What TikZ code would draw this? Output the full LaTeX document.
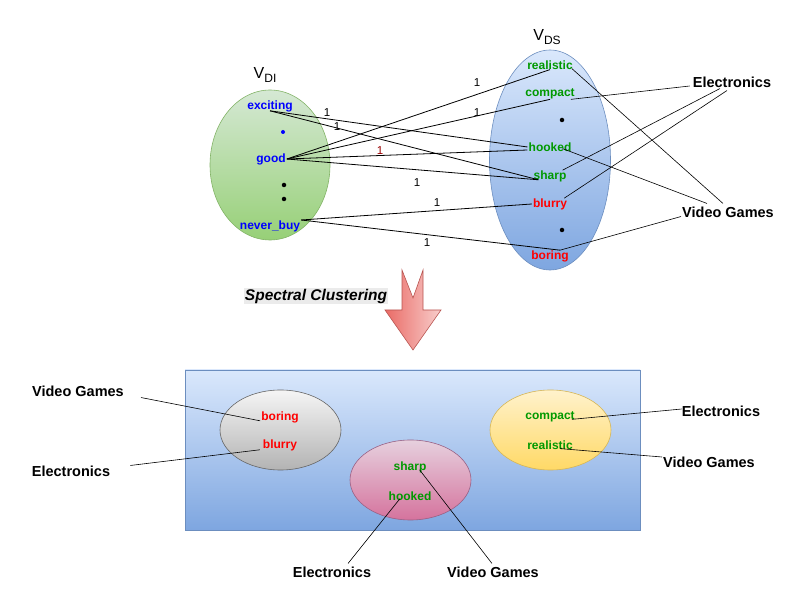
\documentclass[tikz,border=0pt]{standalone}
\usepackage{fontspec}
\setmainfont{Liberation Sans}
\usetikzlibrary{shapes.geometric}
\definecolor{tblue}{HTML}{0000FF}
\definecolor{tgreen}{HTML}{009900}
\definecolor{tred}{HTML}{FF0000}
\definecolor{dred}{HTML}{990000}
\definecolor{gtop}{HTML}{D5E8D4}\definecolor{gbot}{HTML}{97D077}\definecolor{gbrd}{HTML}{82B366}
\definecolor{btop}{HTML}{DAE8FC}\definecolor{bbot}{HTML}{7EA6E0}\definecolor{bbrd}{HTML}{6C8EBF}
\definecolor{ytop}{HTML}{F5F5F5}\definecolor{ybot}{HTML}{B3B3B3}\definecolor{ybrd}{HTML}{666666}
\definecolor{ptop}{HTML}{E6D0DE}\definecolor{pbot}{HTML}{D5739D}\definecolor{pbrd}{HTML}{996185}
\definecolor{otop}{HTML}{FFF2CC}\definecolor{obot}{HTML}{FFD966}\definecolor{obrd}{HTML}{D6B656}
\definecolor{rlight}{HTML}{F8CECC}\definecolor{rdark}{HTML}{EA6B66}\definecolor{rbrd}{HTML}{B85450}
\tikzset{
  word/.style={font=\fontsize{12}{14}\selectfont\bfseries, inner sep=1pt},
  cat/.style={font=\fontsize{14.5}{17}\selectfont\bfseries, inner sep=1pt},
  wt/.style={font=\fontsize{11.5}{13}\selectfont, inner sep=0pt},
  link/.style={draw=black, line width=0.8pt},
  thin link/.style={draw=black, line width=0.6pt},
  blob/.style={ellipse, draw, line width=0.6pt, inner sep=0pt},
  dotmark/.style={circle, fill=black, inner sep=0pt, minimum size=4.5pt},
}
\begin{document}
\begin{tikzpicture}[x=1pt,y=-1pt]
\useasboundingbox (0,0) rectangle (801,601);

% ---------- top: bipartite graph ----------
\node[blob, draw=gbrd, top color=gtop, bottom color=gbot, minimum width=120, minimum height=150] (DI) at (270,165) {};
\node[blob, draw=bbrd, top color=btop, bottom color=bbot, minimum width=121, minimum height=220] (DS) at (550,160) {};

\node (vdi) at (265,75) {\fontsize{16}{18}\selectfont V\raisebox{-3.5pt}{\fontsize{12}{14}\selectfont DI}};
\node (vds) at (547,37) {\fontsize{16}{18}\selectfont V\raisebox{-3.5pt}{\fontsize{12}{14}\selectfont DS}};

\node[word, text=tblue] (exciting) at (270,106) {exciting};
\node[dotmark, fill=tblue, minimum size=4pt] (d1) at (283,132) {};
\node[word, text=tblue] (good) at (271,159) {good};
\node[dotmark] (d2) at (284,185) {};
\node[dotmark] (d3) at (284,199) {};
\node[word, text=tblue] (never) at (270,226) {never\_buy};

\node[word, text=tgreen] (realistic) at (550,65) {realistic};
\node[word, text=tgreen] (compact) at (550,94) {compact};
\node[dotmark] (d4) at (562,120) {};
\node[word, text=tgreen] (hooked) at (550,147) {hooked};
\node[word, text=tgreen] (sharp) at (550,176) {sharp};
\node[word, text=tred] (blurry) at (550,204) {blurry};
\node[dotmark] (d5) at (562,230) {};
\node[word, text=tred] (boring) at (550,256) {boring};

\node[cat] (elec) at (732,82) {Electronics};
\node[cat] (vg) at (728,212) {Video Games};

% weighted edges
\draw[link] ([yshift=2]exciting.south) -- (hooked.west);
\draw[link] ([yshift=2]exciting.south) -- ([xshift=6,yshift=3]sharp.south west);
\draw[link] (good.east) -- ([yshift=1]realistic.south);
\draw[link] (good.east) -- ([yshift=1]compact.south);
\draw[link] (good.east) -- ([yshift=-3]hooked.west);
\draw[link] (good.east) -- ([xshift=6,yshift=3]sharp.south west);
\draw[link] ([yshift=6]never.east) -- (blurry.west);
\draw[link] ([yshift=6]never.east) -- ([xshift=10,yshift=-1]boring.north);

\node[wt] (w1) at (327,113) {1};
\node[wt] (w2) at (337,127) {1};
\node[wt] (w3) at (477,83) {1};
\node[wt] (w4) at (477,113) {1};
\node[wt, text=dred] (w5) at (380,151) {1};
\node[wt] (w6) at (417,183) {1};
\node[wt] (w7) at (437,203) {1};
\node[wt] (w8) at (427,243) {1};

% category links (top)
\draw[thin link] ([xshift=-2,yshift=-4]elec.west) -- ([xshift=-5,yshift=1]compact.south east);
\draw[thin link] ([xshift=-12]elec.south) -- ([xshift=-5,yshift=-1]sharp.north east);
\draw[thin link] ([xshift=-5,yshift=-2]elec.south) -- ([xshift=-4,yshift=-1]blurry.north east);
\draw[thin link] ([xshift=-5,yshift=2]vg.north) -- ([xshift=-2,yshift=2]realistic.south east);
\draw[thin link] ([xshift=-21,yshift=2]vg.north) -- ([xshift=-10,yshift=4]hooked.south east);
\draw[thin link] ([yshift=2]vg.south west) -- ([xshift=10,yshift=-1]boring.north);

% ---------- middle arrow ----------
\node[fill=black!8, inner sep=1pt, font=\fontsize{15.5}{18}\selectfont\bfseries\itshape] (spec) at (316,296) {Spectral Clustering};
\draw[draw=rbrd, line width=0.6pt, left color=rdark, right color=rlight]
  (402,270) -- (413,298) -- (423,270) -- (423,310) -- (441,310) -- (413,350) -- (385,310) -- (402,310) -- cycle;

% ---------- bottom: clusters ----------
\node[draw=bbrd, line width=0.6pt, top color=btop, bottom color=bbot, minimum width=455, minimum height=160, inner sep=0pt] (box) at (412.5,450) {};
\node[blob, draw=ybrd, top color=ytop, bottom color=ybot, minimum width=121, minimum height=80] (c1) at (280.5,430) {};
\node[blob, draw=pbrd, top color=ptop, bottom color=pbot, minimum width=121, minimum height=80] (c2) at (410.5,480) {};
\node[blob, draw=obrd, top color=otop, bottom color=obot, minimum width=121, minimum height=80] (c3) at (550.5,430) {};

\node[word, text=tred] (bboring) at (280,417) {boring};
\node[word, text=tred] (bblurry) at (280,445) {blurry};
\node[word, text=tgreen] (bsharp) at (410,467) {sharp};
\node[word, text=tgreen] (bhooked) at (410,496) {hooked};
\node[word, text=tgreen] (bcompact) at (550,417) {compact};
\node[word, text=tgreen] (brealistic) at (550,445) {realistic};

\node[cat] (vgL) at (78,391) {Video Games};
\node[cat] (elecL) at (71,471) {Electronics};
\node[cat] (elecB) at (332,572) {Electronics};
\node[cat] (vgB) at (493,572) {Video Games};
\node[cat] (elecR) at (721,411) {Electronics};
\node[cat] (vgR) at (709,462) {Video Games};

\draw[thin link] ([xshift=16]vgL.south east) -- ([yshift=3]bboring.south west);
\draw[thin link] ([xshift=19,yshift=-1]elecL.north east) -- ([xshift=-2,yshift=2]bblurry.south west);
\draw[thin link] ([xshift=16,yshift=2]elecB.north) -- ([xshift=-10,yshift=3]bhooked.south);
\draw[thin link] ([xshift=-1,yshift=2]vgB.north) -- ([xshift=-8,yshift=4]bsharp.south east);
\draw[thin link] ([xshift=1,yshift=2]elecR.west) -- ([xshift=-4,yshift=4]bcompact.south east);
\draw[thin link] ([yshift=5]vgR.west) -- ([xshift=10,yshift=2]brealistic.south);
\end{tikzpicture}
\end{document}
